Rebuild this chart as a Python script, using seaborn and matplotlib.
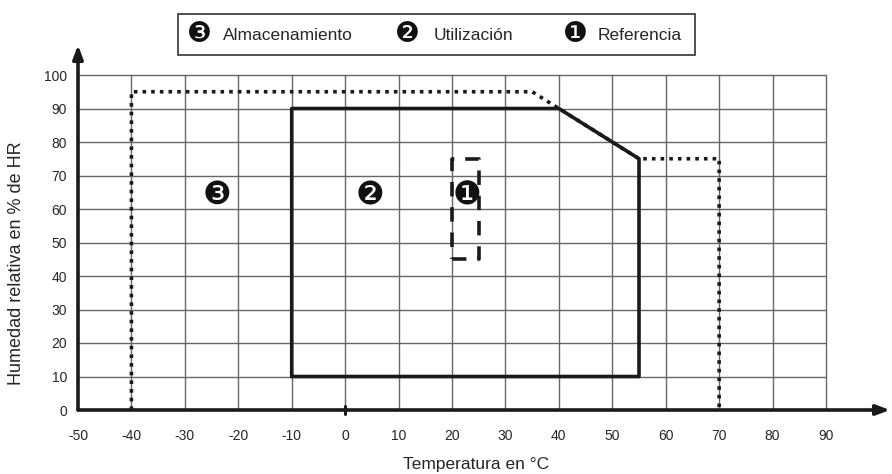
import matplotlib
matplotlib.use("Agg")
import matplotlib.pyplot as plt
import seaborn as sns
import pandas as pd

# ---- data ----
storage_x = [-40, -40, 35, 40, 55, 70, 70]
storage_y = [0, 95, 95, 90, 75, 75, 0]
use_x = [-10, -10, 40, 55, 55, -10]
use_y = [10, 90, 90, 75, 10, 10]
ref_x = [20, 25, 25, 20, 20]
ref_y = [45, 45, 75, 75, 45]
x_ticks = [-50, -40, -30, -20, -10, 0, 10, 20, 30, 40, 50, 60, 70, 80, 90]
y_ticks = [0, 10, 20, 30, 40, 50, 60, 70, 80, 90, 100]
zone_labels = ["\u2778", "\u2777", "\u2776"]
zone_x = [-24, 4.7, 22.8]
zone_y = [64, 64, 64]
legend_names = ["Almacenamiento", "Utilización", "Referencia"]

sns.set_style("white")
plt.rcParams["font.family"] = ["Liberation Sans", "DejaVu Sans"]

fig = plt.figure(figsize=(8.92, 4.74), dpi=100)
W, H = 892, 474
x0, x1 = 78, 890
y0, y1 = 410, 45
ax = fig.add_axes([x0 / W, (H - y0) / H, (x1 - x0) / W, (y0 - y1) / H])
xmin = -50
xmax = xmin + (x1 - x0) / (826 - 78) * 140
ymax = (y0 - y1) / (410 - 75) * 100
ax.set_xlim(xmin, xmax)
ax.set_ylim(0, ymax)
for s in ax.spines.values():
    s.set_visible(False)

# grid
for xv in x_ticks[1:]:
    ax.plot([xv, xv], [0, 100], color="#666666", lw=1, zorder=1)
for yv in y_ticks[1:]:
    ax.plot([-50, 90], [yv, yv], color="#666666", lw=1, zorder=1)

df_s = pd.DataFrame({"x": storage_x, "y": storage_y})
df_u = pd.DataFrame({"x": use_x, "y": use_y})
df_r = pd.DataFrame({"x": ref_x, "y": ref_y})
sns.lineplot(data=df_s, x="x", y="y", sort=False, estimator=None, ax=ax,
             color="#1a1a1a", lw=2.6, linestyle=(0, (1, 1.4)), zorder=3)
sns.lineplot(data=df_u, x="x", y="y", sort=False, estimator=None, ax=ax,
             color="#1a1a1a", lw=2.6, zorder=4)
sns.lineplot(data=df_r, x="x", y="y", sort=False, estimator=None, ax=ax,
             color="#1a1a1a", lw=2.6, linestyle=(0, (4, 3)), zorder=4)

for t, xv, yv in zip(zone_labels, zone_x, zone_y):
    ax.text(xv, yv, t, fontsize=23, ha="center", va="center",
            family=["DejaVu Sans"], color="#111111", zorder=5)

# axes arrows
ax.annotate("", xy=(xmax, 0), xytext=(-50, 0),
            arrowprops=dict(arrowstyle="-|>,head_length=0.8,head_width=0.3",
                            color="#1a1a1a", lw=2.6, shrinkA=0, shrinkB=0), zorder=6)
ax.annotate("", xy=(-50, ymax), xytext=(-50, 0),
            arrowprops=dict(arrowstyle="-|>,head_length=0.8,head_width=0.3",
                            color="#1a1a1a", lw=2.6, shrinkA=0, shrinkB=0), zorder=6)
ax.plot([0, 0], [-1.2, 1.2], color="#1a1a1a", lw=2.2, zorder=7, clip_on=False)

ax.set_xticks(x_ticks)
ax.set_yticks(y_ticks)
ax.set_xticklabels([str(v) for v in x_ticks], fontsize=10)
ax.set_yticklabels([str(v) for v in y_ticks], fontsize=10)
ax.tick_params(axis="x", length=0, pad=14)
ax.tick_params(axis="y", length=0, pad=8)
ax.set_xlabel("")
ax.set_ylabel("")
fig.text(476 / W, 1 - 465 / H, "Temperatura en °C", ha="center", va="center", fontsize=12.5)
fig.text(17 / W, 1 - 263 / H, "Humedad relativa en % de HR", ha="center", va="center",
         rotation=90, fontsize=13)

# legend box
lx0, lx1, ly0, ly1 = 178, 695, 14, 55
fig.patches.append(plt.Rectangle((lx0 / W, 1 - ly1 / H), (lx1 - lx0) / W, (ly1 - ly0) / H,
                                 transform=fig.transFigure, fill=False,
                                 edgecolor="#333333", lw=1.2))
items = [(zone_labels[0], legend_names[0], 199, 223),
         (zone_labels[1], legend_names[1], 407, 434),
         (zone_labels[2], legend_names[2], 575, 598)]
for sym, name, sx, tx in items:
    fig.text(sx / W, 1 - 34 / H, sym, ha="center", va="center", fontsize=20,
             family=["DejaVu Sans"], color="#111111")
    fig.text(tx / W, 1 - 36 / H, name, ha="left", va="center", fontsize=12.5)

fig.savefig("out.png", dpi=100)
